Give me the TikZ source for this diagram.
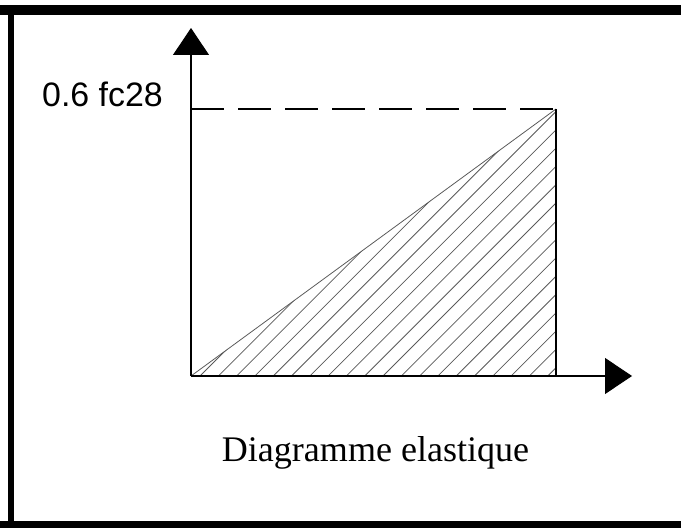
\documentclass[tikz,border=0pt]{standalone}
\usepackage{fontspec}
\setmainfont{Liberation Serif}
\newfontfamily\labelfont{Liberation Sans}
\usetikzlibrary{arrows.meta}

\tikzset{
  axis/.style={line width=0.6pt, -{Triangle[length=0.54cm,width=0.72cm]}},
  hatch/.style={line width=0.45pt, color=black!65},
  levelline/.style={line width=0.6pt, dash pattern=on 0.66cm off 0.28cm}
}

\begin{document}
\begin{tikzpicture}
    \useasboundingbox (0,0) rectangle (13.62,10.56);

    % frame
    \fill (0,10.46) rectangle (13.62,10.26);
    \fill (0.16,0) rectangle (0.28,10.46);
    \fill (0,0) rectangle (13.62,0.14);

    \coordinate (O) at (3.82,3.04);
    \coordinate (B) at (11.12,3.04);
    \coordinate (C) at (11.12,8.38);
    \coordinate (L) at (3.82,8.38);
    \coordinate (ytip) at (3.82,10.0);
    \coordinate (xtip) at (12.64,3.04);

    % hatching
    \begin{scope}
      \clip (O) -- (B) -- (C) -- cycle;
      \foreach \x in {-3.32,-2.954,...,11.2}
        \draw [hatch] (\x,3.04) -- ++(8,8);
    \end{scope}
    \draw [hatch] (O) -- (C);
    \draw [line width=0.6pt] (B) -- (C);
    \draw [levelline] (L) -- (C);

    \draw [axis] (O) -- (ytip);
    \draw [axis] (O) -- (xtip);

    \node [font=\labelfont\fontsize{19.3}{22}\selectfont] (level) at (2.05,8.68) {0.6 fc28};
    \node [anchor=base, font=\fontsize{20.5}{24}\selectfont] (title) at (7.51,1.32) {Diagramme elastique};

  \end{tikzpicture}
\end{document}
